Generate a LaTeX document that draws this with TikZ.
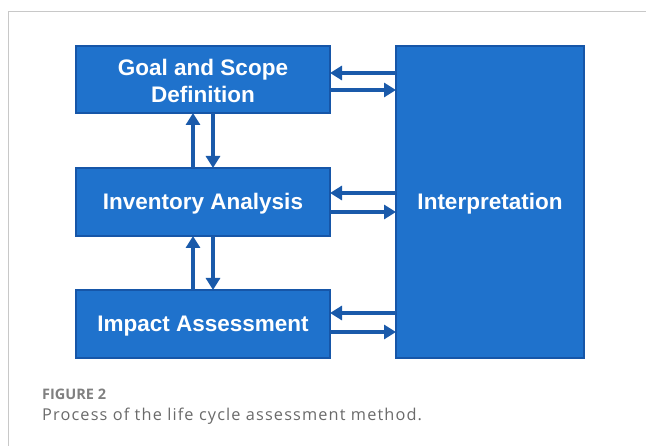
\documentclass[tikz,border=0pt]{standalone}
\usepackage{fontspec}
\setmainfont{Liberation Sans}
\newfontfamily\capfont[LetterSpace=7]{Open Sans}
\newfontfamily\figfont{Open Sans}
\usetikzlibrary{arrows.meta}
\definecolor{boxfill}{HTML}{1F72CC}
\definecolor{boxedge}{HTML}{1656A8}
\definecolor{arrowcol}{HTML}{1A5AAA}
\definecolor{framecol}{HTML}{C8C8C8}
\definecolor{capgray}{HTML}{6A6A6A}
\begin{document}
\begin{tikzpicture}[x=1pt,y=-1pt,
  stagebox/.style={draw=boxedge,line width=1.2pt,fill=boxfill,text=white,
    font=\fontsize{22.5}{26.7}\selectfont\bfseries,align=center,inner sep=0pt,
    text height=16.1pt,text depth=0.7pt},
  flow/.style={draw=arrowcol,line width=3.6pt,-{Triangle[length=12pt,width=14pt]}}]
  \useasboundingbox (0,0) rectangle (646,446);
  % page frame
  \draw[framecol,line width=0.8pt] (646,11) -- (8,11) -- (8,446);
  % stage boxes
  \node[stagebox,minimum width=254pt,minimum height=67pt,text height=46.4pt,text depth=0pt] (goal) at (203,79.5) {Goal and Scope\\Definition};
  \node[stagebox,minimum width=254pt,minimum height=68pt] (inv) at (203,202) {Inventory Analysis};
  \node[stagebox,minimum width=254pt,minimum height=68pt] (imp) at (203,324) {Impact Assessment};
  \node[stagebox,minimum width=188pt,minimum height=312pt] (interp) at (490,202) {Interpretation};
  % vertical exchanges
  \draw[flow] (193,168) -- (193,113);
  \draw[flow] (213,113) -- (213,168);
  \draw[flow] (193,290) -- (193,236);
  \draw[flow] (213,236) -- (213,290);
  % exchanges with interpretation
  \draw[flow] (396,73) -- (330,73);
  \draw[flow] (330,90) -- (396,90);
  \draw[flow] (396,193) -- (330,193);
  \draw[flow] (330,212) -- (396,212);
  \draw[flow] (396,313) -- (330,313);
  \draw[flow] (330,332) -- (396,332);
  % caption
  \node[anchor=base west,inner sep=0pt,text=capgray!85,font=\figfont\fontsize{14.5}{16}\selectfont\bfseries] (fig) at (42,400) {FIGURE 2};
  \node[anchor=base west,inner sep=0pt,text=capgray,font=\capfont\fontsize{16.3}{18}\selectfont] (cap) at (42,421) {Process of the life cycle assessment method.};
\end{tikzpicture}
\end{document}
